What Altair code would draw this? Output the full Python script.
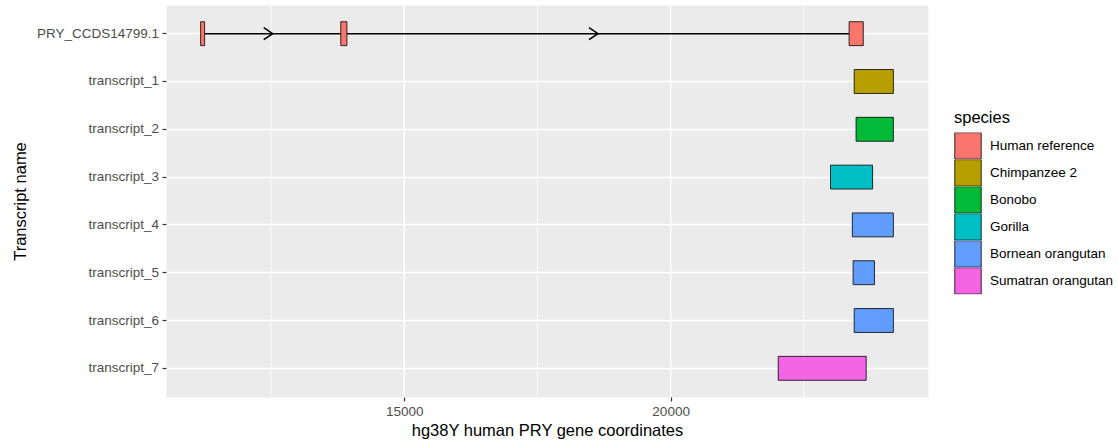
import altair as alt
import pandas as pd

# ---- data ----
transcript_order = ["PRY_CCDS14799.1", "transcript_1", "transcript_2", "transcript_3",
                    "transcript_4", "transcript_5", "transcript_6", "transcript_7"]
exon_transcript = ["PRY_CCDS14799.1", "PRY_CCDS14799.1", "PRY_CCDS14799.1",
                   "transcript_1", "transcript_2", "transcript_3", "transcript_4",
                   "transcript_5", "transcript_6", "transcript_7"]
exon_start = [11180, 13810, 23350, 23445, 23480, 23000, 23410, 23425, 23445, 22020]
exon_end = [11255, 13925, 23615, 24180, 24180, 23790, 24180, 23825, 24180, 23670]
exon_species = ["Human reference", "Human reference", "Human reference",
                "Chimpanzee 2", "Bonobo", "Gorilla", "Bornean orangutan",
                "Bornean orangutan", "Bornean orangutan", "Sumatran orangutan"]
species_order = ["Human reference", "Chimpanzee 2", "Bonobo", "Gorilla",
                 "Bornean orangutan", "Sumatran orangutan"]
species_colors = ["#F8766D", "#B79F00", "#00BA38", "#00BFC4", "#619CFF", "#F564E3"]
major_ticks = [15000, 20000]
minor_ticks = [12500, 17500, 22500]

exons = pd.DataFrame({"transcript": exon_transcript, "start": exon_start,
                      "end": exon_end, "species": exon_species})

# introns of the reference transcript (between consecutive exons)
ref = exons[exons.transcript == "PRY_CCDS14799.1"].sort_values("start")
introns = pd.DataFrame({
    "transcript": "PRY_CCDS14799.1",
    "start": ref["end"].values[:-1],
    "end": ref["start"].values[1:],
})
introns["mid"] = (introns["start"] + introns["end"]) / 2

lo, hi = min(exon_start), max(exon_end)
pad = (hi - lo) * 0.05
xscale = alt.Scale(domain=[lo - pad, hi + pad], nice=False, zero=False)
yscale = alt.Scale(domain=transcript_order, paddingInner=0.5, paddingOuter=0.35)

FONT = "Liberation Sans"
W, H = 762, 392

x_axis = alt.Axis(
    title="hg38Y human PRY gene coordinates", values=major_ticks, format="d",
    grid=False, domain=False, tickColor="#333333", tickSize=4, tickWidth=1.2,
    labelFontSize=13.5, labelColor="#4D4D4D", labelPadding=3, labelFont=FONT,
    titleFontSize=16.5, titleFontWeight="normal", titleColor="black", titleFont=FONT,
    titleY=38.7, titleBaseline="alphabetic", titleX=W / 2, titleAlign="center",
)
y_axis = alt.Axis(
    title="Transcript name", grid=True, gridColor="white", gridWidth=1.6,
    bandPosition=0.5, domain=False, tickColor="#333333", tickSize=4, tickWidth=1.2,
    labelFontSize=13.5, labelColor="#4D4D4D", labelPadding=3.5, labelFont=FONT,
    titleFontSize=16.5, titleFontWeight="normal", titleColor="black", titleFont=FONT,
    titleX=-146, titleY=H / 2, titleBaseline="middle", titleAlign="center", titleAngle=270,
)

minor_df = pd.DataFrame({"start": minor_ticks})
major_df = pd.DataFrame({"start": major_ticks})

minor_grid = alt.Chart(minor_df).mark_rule(color="white", strokeWidth=0.8).encode(
    x=alt.X("start:Q", scale=xscale, axis=x_axis))
major_grid = alt.Chart(major_df).mark_rule(color="white", strokeWidth=1.6).encode(
    x=alt.X("start:Q", scale=xscale, axis=x_axis))

intron_lines = alt.Chart(introns).mark_rule(color="black", strokeWidth=1.6).encode(
    x=alt.X("start:Q", scale=xscale, axis=x_axis),
    x2="end:Q",
    y=alt.Y("transcript:N", scale=yscale, axis=y_axis, sort=transcript_order),
)
arrows = alt.Chart(introns).mark_point(
    shape="M-1.5,-1L0,0L-1.5,1", filled=False, stroke="black", strokeWidth=1.6,
    size=144, opacity=1,
).encode(
    x=alt.X("mid:Q", scale=xscale, axis=x_axis),
    y=alt.Y("transcript:N", scale=yscale, axis=y_axis, sort=transcript_order),
)

exon_rects = alt.Chart(exons).mark_rect(stroke="black", strokeWidth=0.8).encode(
    x=alt.X("start:Q", scale=xscale, axis=x_axis),
    x2="end:Q",
    y=alt.Y("transcript:N", scale=yscale, axis=y_axis, sort=transcript_order),
    color=alt.Color("species:N",
                    scale=alt.Scale(domain=species_order, range=species_colors),
                    legend=alt.Legend(
                        title="species", orient="none", legendX=788, legendY=105,
                        titleFontSize=16.5, titleFontWeight="normal", titleColor="black",
                        titleFont=FONT, titlePadding=6,
                        labelFontSize=13.5, labelColor="black", labelFont=FONT,
                        labelOffset=8, symbolType="square", symbolSize=700,
                        symbolStrokeColor="black", symbolStrokeWidth=0.8,
                        symbolOpacity=1, rowPadding=0, clipHeight=26.8, padding=0,
                    )),
)

chart = alt.layer(minor_grid, major_grid, intron_lines, arrows, exon_rects).properties(
    width=W, height=H,
    autosize=alt.AutoSizeParams(type="none"),
    padding={"left": 166, "top": 5, "right": 1118 - 166 - W, "bottom": 442 - 5 - H},
    background="white",
).configure(font=FONT).configure_view(fill="#EBEBEB", stroke="transparent")

chart.save("out.html", embed_options={"renderer": "svg", "actions": False})
